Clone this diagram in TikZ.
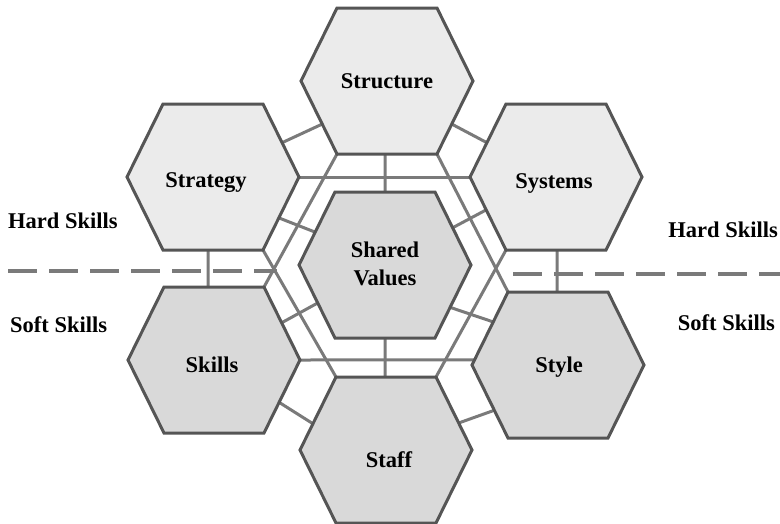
\documentclass[tikz,border=0pt]{standalone}
\usepackage{fontspec}
\setmainfont{Liberation Serif}
\usetikzlibrary{calc}

\definecolor{hexline}{HTML}{555555}
\definecolor{linkgray}{HTML}{7A7A7A}
\definecolor{hardfill}{HTML}{EBEBEB}
\definecolor{softfill}{HTML}{D9D9D9}

\tikzset{
  hexshape/.style={draw=hexline, line width=3pt, line join=miter},
  link/.style={draw=linkgray, line width=3pt},
  divider/.style={draw=linkgray, line width=4pt, dash pattern=on 29pt off 12pt},
  caption/.style={font=\fontsize{22.5}{28}\selectfont\bfseries, inner sep=0pt},
}

% corners of a flat-topped hexagon: 1 right, 2 top right, 3 top left,
% 4 left, 5 bottom left, 6 bottom right
\newcommand\hexcorners[3]{%
  \coordinate (#1) at (#2,#3);
  \coordinate (#1-1) at (#2+86,#3);
  \coordinate (#1-2) at (#2+50,#3-73);
  \coordinate (#1-3) at (#2-50,#3-73);
  \coordinate (#1-4) at (#2-86,#3);
  \coordinate (#1-5) at (#2-50,#3+73);
  \coordinate (#1-6) at (#2+50,#3+73);
}
\newcommand\hexfill[2]{%
  \path[hexshape, fill=#2] (#1-1) -- (#1-2) -- (#1-3) -- (#1-4) -- (#1-5) -- (#1-6) -- cycle;
}

\begin{document}
\begin{tikzpicture}[x=1pt, y=-1pt]
\useasboundingbox (0,0) rectangle (780,523);

\hexcorners{structure}{387}{81}
\hexcorners{strategy}{213}{177}
\hexcorners{systems}{556}{177}
\hexcorners{shared}{385}{265}
\hexcorners{skills}{214}{360}
\hexcorners{style}{558}{365}
\hexcorners{staff}{386}{450}

% hard / soft divider
\coordinate (divL-a) at (8,271);
\coordinate (divL-b) at (277,271);
\coordinate (divR-a) at (513,274);
\coordinate (divR-b) at (780,274);
\draw[divider] (divL-a) -- (divL-b);
\draw[divider] (divR-a) -- (divR-b);

% long links forming the ring round the centre
\draw[link] (strategy-1) -- (strategy-1 -| systems-4);
\draw[link] (skills-1) -- ($(style-4)!0.07!(style-3)$);
\draw[link] (structure-5) -- (skills-2);
\draw[link] (strategy-6) -- (staff-3);
\draw[link] (structure-6) -- (style-3);
\draw[link] (systems-5) -- (staff-2);

% short links between neighbouring hexagons
\draw[link] ($(strategy-1)!0.47!(strategy-2)$) -- ($(structure-4)!0.59!(structure-5)$);
\draw[link] ($(systems-4)!0.47!(systems-3)$) -- ($(structure-1)!0.59!(structure-6)$);
\draw[link] ($(strategy-1)!0.56!(strategy-6)$) -- ($(shared-4)!0.45!(shared-3)$);
\draw[link] ($(systems-4)!0.45!(systems-5)$) -- ($(shared-1)!0.51!(shared-2)$);
\draw[link] ($(skills-1)!0.51!(skills-2)$) -- ($(shared-4)!0.52!(shared-5)$);
\draw[link] ($(style-4)!0.59!(style-3)$) -- ($(shared-1)!0.58!(shared-6)$);
\draw[link] ($(skills-1)!0.58!(skills-6)$) -- ($(staff-3)!0.64!(staff-4)$);
\draw[link] ($(style-4)!0.62!(style-5)$) -- ($(staff-2)!0.63!(staff-1)$);
\draw[link] ($(structure-5)!0.48!(structure-6)$) -- ($(shared-3)!0.5!(shared-2)$);
\draw[link] ($(shared-5)!0.5!(shared-6)$) -- ($(staff-3)!0.49!(staff-2)$);
\draw[link] ($(strategy-5)!0.45!(strategy-6)$) -- ($(skills-3)!0.44!(skills-2)$);
\draw[link] ($(systems-5)!0.51!(systems-6)$) -- ($(style-3)!0.49!(style-2)$);

% hexagons
\hexfill{structure}{hardfill}
\hexfill{strategy}{hardfill}
\hexfill{systems}{hardfill}
\hexfill{shared}{softfill}
\hexfill{skills}{softfill}
\hexfill{style}{softfill}
\hexfill{staff}{softfill}

% hexagon texts
\node[caption, anchor=base] (structure-text) at (387,88) {Structure};
\node[caption, anchor=base] (strategy-text) at (206,187) {Strategy};
\node[caption, anchor=base] (systems-text) at (554,188) {Systems};
\node[caption, anchor=center, align=center] (shared-text) at (385,263.5) {Shared\\Values};
\node[caption, anchor=base] (skills-text) at (212,372) {Skills};
\node[caption, anchor=base] (style-text) at (559,372) {Style};
\node[caption, anchor=base] (staff-text) at (389,467) {Staff};

% side captions
\node[caption, anchor=base west] (hard-left) at (8,228) {Hard Skills};
\node[caption, anchor=base west] (soft-left) at (10,332) {Soft Skills};
\node[caption, anchor=base east] (hard-right) at (778,237) {Hard Skills};
\node[caption, anchor=base east] (soft-right) at (775,330) {Soft Skills};
\end{tikzpicture}
\end{document}
